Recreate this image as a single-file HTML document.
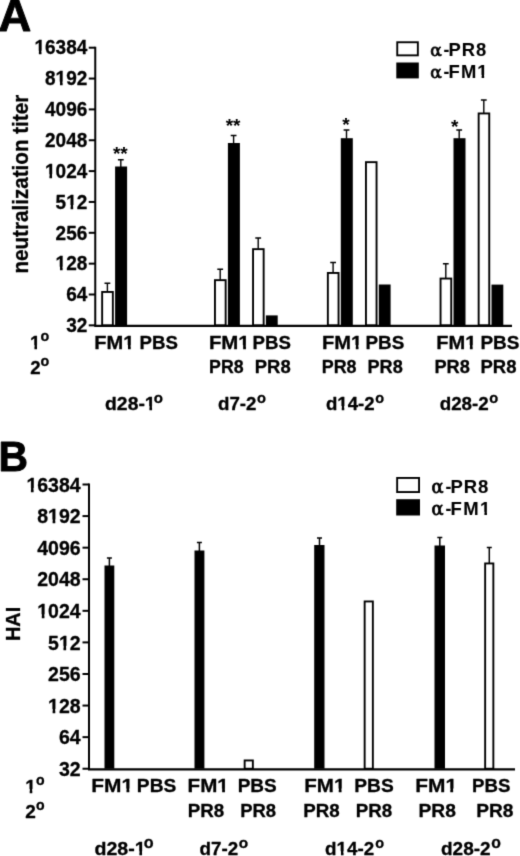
<!DOCTYPE html>
<html lang="en"><head><meta charset="utf-8"><title>Figure</title>
<style>
html,body{margin:0;padding:0;background:#fff;}
body{width:520px;height:856px;overflow:hidden;}
svg{display:block;}
svg text{font-family:"Liberation Sans", Arial, Helvetica, sans-serif;fill:#000;stroke:#000;stroke-width:0.3px;stroke-linejoin:round;}
</style></head><body>
<svg width="520" height="856" viewBox="0 0 520 856">
<defs><filter id="soft" color-interpolation-filters="sRGB" x="0" y="0" width="520" height="856" filterUnits="userSpaceOnUse"><feConvolveMatrix order="3" kernelMatrix="0.0169 0.0962 0.0169 0.0962 0.5476 0.0962 0.0169 0.0962 0.0169" divisor="1" edgeMode="duplicate" preserveAlpha="true"/></filter></defs>
<rect x="0" y="0" width="520" height="856" fill="#fff"/>
<g filter="url(#soft)">
<rect x="-5" y="-5" width="530" height="866" fill="#fff"/>
<text transform="translate(-1.4 30.8) scale(1.036 1)" font-size="43.8" font-weight="bold" style="stroke-width:0.9px">A</text>
<path d="M88.75 47.70H95.25" stroke="#000" stroke-width="2"/>
<g transform="translate(87.3 54.45) scale(0.97 1)">
<text x="0" y="0" font-size="19.6" font-weight="bold" text-anchor="end">16384</text>
<rect x="-54.47" y="-3.70" width="4.54" height="5.70" fill="#fff"/>
<rect x="-47.24" y="-3.70" width="3.94" height="5.70" fill="#fff"/>
</g>
<path d="M88.75 78.55H95.25" stroke="#000" stroke-width="2"/>
<g transform="translate(87.3 85.3) scale(0.97 1)">
<text x="0" y="0" font-size="19.6" font-weight="bold" text-anchor="end">8192</text>
<rect x="-32.67" y="-3.70" width="4.54" height="5.70" fill="#fff"/>
<rect x="-25.44" y="-3.70" width="3.94" height="5.70" fill="#fff"/>
</g>
<path d="M88.75 109.40H95.25" stroke="#000" stroke-width="2"/>
<g transform="translate(87.3 116.15) scale(0.97 1)">
<text x="0" y="0" font-size="19.6" font-weight="bold" text-anchor="end">4096</text>
</g>
<path d="M88.75 140.25H95.25" stroke="#000" stroke-width="2"/>
<g transform="translate(87.3 147.0) scale(0.97 1)">
<text x="0" y="0" font-size="19.6" font-weight="bold" text-anchor="end">2048</text>
</g>
<path d="M88.75 171.10H95.25" stroke="#000" stroke-width="2"/>
<g transform="translate(87.3 177.85) scale(0.97 1)">
<text x="0" y="0" font-size="19.6" font-weight="bold" text-anchor="end">1024</text>
<rect x="-43.57" y="-3.70" width="4.54" height="5.70" fill="#fff"/>
<rect x="-36.34" y="-3.70" width="3.94" height="5.70" fill="#fff"/>
</g>
<path d="M88.75 201.95H95.25" stroke="#000" stroke-width="2"/>
<g transform="translate(87.3 208.7) scale(0.97 1)">
<text x="0" y="0" font-size="19.6" font-weight="bold" text-anchor="end">512</text>
<rect x="-21.77" y="-3.70" width="4.54" height="5.70" fill="#fff"/>
<rect x="-14.54" y="-3.70" width="3.94" height="5.70" fill="#fff"/>
</g>
<path d="M88.75 232.80H95.25" stroke="#000" stroke-width="2"/>
<g transform="translate(87.3 239.55) scale(0.97 1)">
<text x="0" y="0" font-size="19.6" font-weight="bold" text-anchor="end">256</text>
</g>
<path d="M88.75 263.65H95.25" stroke="#000" stroke-width="2"/>
<g transform="translate(87.3 270.4) scale(0.97 1)">
<text x="0" y="0" font-size="19.6" font-weight="bold" text-anchor="end">128</text>
<rect x="-32.67" y="-3.70" width="4.54" height="5.70" fill="#fff"/>
<rect x="-25.44" y="-3.70" width="3.94" height="5.70" fill="#fff"/>
</g>
<path d="M88.75 294.50H95.25" stroke="#000" stroke-width="2"/>
<g transform="translate(87.3 301.25) scale(0.97 1)">
<text x="0" y="0" font-size="19.6" font-weight="bold" text-anchor="end">64</text>
</g>
<path d="M88.75 325.35H95.25" stroke="#000" stroke-width="2"/>
<g transform="translate(87.3 332.1) scale(0.97 1)">
<text x="0" y="0" font-size="19.6" font-weight="bold" text-anchor="end">32</text>
</g>
<rect x="102.15" y="291.95" width="10.70" height="33.40" fill="#fff" stroke="#000" stroke-width="1.9"/>
<rect x="115.10000000000001" y="166.5" width="12.00" height="158.85" fill="#000"/>
<rect x="214.95" y="280.15" width="10.70" height="45.20" fill="#fff" stroke="#000" stroke-width="1.9"/>
<rect x="227.9" y="143" width="12.00" height="182.35" fill="#000"/>
<rect x="253.04999999999998" y="249.14999999999998" width="10.60" height="76.20" fill="#fff" stroke="#000" stroke-width="1.9"/>
<rect x="265.9" y="315.4" width="11.80" height="9.95" fill="#000"/>
<rect x="327.84999999999997" y="272.95" width="10.70" height="52.40" fill="#fff" stroke="#000" stroke-width="1.9"/>
<rect x="340.79999999999995" y="138.2" width="12.00" height="187.15" fill="#000"/>
<rect x="365.95" y="162.14999999999998" width="10.60" height="163.20" fill="#fff" stroke="#000" stroke-width="1.9"/>
<rect x="378.79999999999995" y="284.5" width="11.80" height="40.85" fill="#000"/>
<rect x="440.55" y="278.55" width="10.70" height="46.80" fill="#fff" stroke="#000" stroke-width="1.9"/>
<rect x="453.5" y="138.2" width="12.00" height="187.15" fill="#000"/>
<rect x="478.65000000000003" y="113.45" width="10.60" height="211.90" fill="#fff" stroke="#000" stroke-width="1.9"/>
<rect x="491.5" y="284.6" width="11.80" height="40.75" fill="#000"/>
<path d="M107.4 291.5V283.2M104.5 283.2H110.30000000000001" stroke="#000" stroke-width="1.4" fill="none"/>
<path d="M120.8 167.0V159.7M117.89999999999999 159.7H123.7" stroke="#000" stroke-width="1.4" fill="none"/>
<path d="M220.2 279.7V269.2M217.29999999999998 269.2H223.1" stroke="#000" stroke-width="1.4" fill="none"/>
<path d="M233.6 143.5V135.5M230.7 135.5H236.5" stroke="#000" stroke-width="1.4" fill="none"/>
<path d="M258.2 248.7V238M255.29999999999998 238H261.09999999999997" stroke="#000" stroke-width="1.4" fill="none"/>
<path d="M333.1 272.5V262.5M330.20000000000005 262.5H336.0" stroke="#000" stroke-width="1.4" fill="none"/>
<path d="M346.5 138.7V130M343.6 130H349.4" stroke="#000" stroke-width="1.4" fill="none"/>
<path d="M445.8 278.1V263.7M442.90000000000003 263.7H448.7" stroke="#000" stroke-width="1.4" fill="none"/>
<path d="M459.2 138.7V130M456.3 130H462.09999999999997" stroke="#000" stroke-width="1.4" fill="none"/>
<path d="M483.8 113.0V100M480.90000000000003 100H486.7" stroke="#000" stroke-width="1.4" fill="none"/>
<path d="M95.25 46.7V326.35" stroke="#000" stroke-width="2" fill="none"/>
<path d="M94.25 325.95H512" stroke="#000" stroke-width="2.2" fill="none"/>
<text x="120.3" y="160.2" font-size="19" text-anchor="middle" font-weight="bold" style="stroke-width:0">**</text>
<text x="233.1" y="131.7" font-size="19" text-anchor="middle" font-weight="bold" style="stroke-width:0">**</text>
<text x="346" y="131" font-size="19" text-anchor="middle" font-weight="bold" style="stroke-width:0">*</text>
<text x="454.7" y="133" font-size="19" text-anchor="middle" font-weight="bold" style="stroke-width:0">*</text>
<rect x="397.25" y="42.25" width="20.60" height="13.10" fill="#fff" stroke="#000" stroke-width="1.9"/>
<rect x="396.3" y="62.5" width="22.50" height="15.90" fill="#000"/>
<text x="430.2" y="56.2" font-size="17" font-weight="normal" stroke="#000" style="stroke-width:0.8px;font-family:'DejaVu Serif','Liberation Serif',serif">α</text>
<text x="443.57" y="56.2" font-size="17.5" font-weight="bold" letter-spacing="0.000" style="stroke-width:0.1px">-</text>
<g transform="translate(448.52 56.2) scale(1.05 1)">
<text x="0" y="0" font-size="17.5" font-weight="bold" letter-spacing="0.881" style="stroke-width:0.1px">PR8</text>
</g>
<text x="430.2" y="78.4" font-size="17" font-weight="normal" stroke="#000" style="stroke-width:0.8px;font-family:'DejaVu Serif','Liberation Serif',serif">α</text>
<text x="443.57" y="78.4" font-size="17.5" font-weight="bold" letter-spacing="0.000" style="stroke-width:0.1px">-</text>
<g transform="translate(448.52 78.4) scale(1.05 1)">
<text x="0" y="0" font-size="17.5" font-weight="bold" letter-spacing="1.090" style="stroke-width:0.1px">FM1</text>
<rect x="27.35" y="-3.49" width="4.18" height="5.49" fill="#fff"/>
<rect x="33.93" y="-3.49" width="3.96" height="5.49" fill="#fff"/>
</g>
<text transform="translate(27.9 273.6) rotate(-90) scale(1.007 1.055)" font-size="20.5" font-weight="bold">neutralization titer</text>
<text x="30.07" y="348.70000000000005" font-size="18.7" font-weight="bold" letter-spacing="0.000">1</text>
<rect x="30.05" y="345.09" width="4.39" height="5.61" fill="#fff"/>
<rect x="37.00" y="345.09" width="3.77" height="5.61" fill="#fff"/>
<text x="40.39" y="341.11" font-size="14.27" font-weight="bold">o</text>
<text x="30.20" y="373.59999999999997" font-size="18.7" font-weight="bold" letter-spacing="0.000">2</text>
<text x="40.39" y="365.61" font-size="14.27" font-weight="bold">o</text>
<g transform="translate(94.31 348.6) scale(1.074 1)">
<text x="0" y="0" font-size="18.7" font-weight="bold" letter-spacing="0.001">FM1</text>
<rect x="26.98" y="-3.61" width="4.39" height="5.61" fill="#fff"/>
<rect x="33.93" y="-3.61" width="3.77" height="5.61" fill="#fff"/>
</g>
<g transform="translate(139.60 348.6) scale(0.998 1)">
<text x="0" y="0" font-size="18.7" font-weight="bold" letter-spacing="0.002">PBS</text>
</g>
<g transform="translate(208.88 348.6) scale(1.092 1)">
<text x="0" y="0" font-size="18.7" font-weight="bold" letter-spacing="0.006">FM1</text>
<rect x="26.99" y="-3.61" width="4.39" height="5.61" fill="#fff"/>
<rect x="33.94" y="-3.61" width="3.78" height="5.61" fill="#fff"/>
</g>
<g transform="translate(252.50 348.6) scale(0.998 1)">
<text x="0" y="0" font-size="18.7" font-weight="bold" letter-spacing="0.002">PBS</text>
</g>
<g transform="translate(322.00 348.6) scale(1.077 1)">
<text x="0" y="0" font-size="18.7" font-weight="bold" letter-spacing="0.002">FM1</text>
<rect x="26.98" y="-3.61" width="4.39" height="5.61" fill="#fff"/>
<rect x="33.93" y="-3.61" width="3.77" height="5.61" fill="#fff"/>
</g>
<g transform="translate(365.49 348.6) scale(1.009 1)">
<text x="0" y="0" font-size="18.7" font-weight="bold" letter-spacing="0.002">PBS</text>
</g>
<g transform="translate(436.21 348.6) scale(1.074 1)">
<text x="0" y="0" font-size="18.7" font-weight="bold" letter-spacing="0.001">FM1</text>
<rect x="26.98" y="-3.61" width="4.39" height="5.61" fill="#fff"/>
<rect x="33.93" y="-3.61" width="3.77" height="5.61" fill="#fff"/>
</g>
<g transform="translate(480.48 348.6) scale(1.015 1)">
<text x="0" y="0" font-size="18.7" font-weight="bold" letter-spacing="-0.008">PBS</text>
</g>
<g transform="translate(209.06 372.7) scale(0.949 1)">
<text x="0" y="0" font-size="18.7" font-weight="bold" letter-spacing="0.006">PR8</text>
</g>
<g transform="translate(254.82 372.7) scale(0.987 1)">
<text x="0" y="0" font-size="18.7" font-weight="bold" letter-spacing="-0.001">PR8</text>
</g>
<g transform="translate(321.75 372.7) scale(0.958 1)">
<text x="0" y="0" font-size="18.7" font-weight="bold" letter-spacing="-0.000">PR8</text>
</g>
<g transform="translate(367.54 372.7) scale(0.97 1)">
<text x="0" y="0" font-size="18.7" font-weight="bold" letter-spacing="-0.008">PR8</text>
</g>
<g transform="translate(434.43 372.7) scale(0.975 1)">
<text x="0" y="0" font-size="18.7" font-weight="bold" letter-spacing="0.006">PR8</text>
</g>
<g transform="translate(480.51 372.7) scale(0.99 1)">
<text x="0" y="0" font-size="18.7" font-weight="bold" letter-spacing="-0.003">PR8</text>
</g>
<g transform="translate(105.06 409.6) scale(1.036 1)">
<text x="0" y="0" font-size="18.7" font-weight="bold" letter-spacing="-0.005">d28-1</text>
<rect x="38.41" y="-3.61" width="4.39" height="5.61" fill="#fff"/>
<rect x="45.36" y="-3.61" width="3.77" height="5.61" fill="#fff"/>
</g>
<text x="153.86" y="402.90" font-size="15.02" font-weight="bold">o</text>
<g transform="translate(217.98 409.6) scale(1.002 1)">
<text x="0" y="0" font-size="18.7" font-weight="bold" letter-spacing="-0.003">d7-2</text>
</g>
<text x="256.98" y="402.90" font-size="14.64" font-weight="bold">o</text>
<g transform="translate(325.99 409.6) scale(0.997 1)">
<text x="0" y="0" font-size="18.7" font-weight="bold" letter-spacing="0.002">d14-2</text>
<rect x="11.40" y="-3.61" width="4.39" height="5.61" fill="#fff"/>
<rect x="18.35" y="-3.61" width="3.77" height="5.61" fill="#fff"/>
</g>
<text x="375.29" y="402.91" font-size="14.45" font-weight="bold">o</text>
<g transform="translate(439.68 409.6) scale(1.006 1)">
<text x="0" y="0" font-size="18.7" font-weight="bold" letter-spacing="-0.005">d28-2</text>
</g>
<text x="489.28" y="402.90" font-size="14.64" font-weight="bold">o</text>
<text transform="translate(-1.5 470.9) scale(0.955 1)" font-size="42.8" font-weight="bold" style="stroke-width:0.9px">B</text>
<path d="M82.5 484.50H89.0" stroke="#000" stroke-width="2"/>
<g transform="translate(80.6 491.7) scale(0.975 1)">
<text x="0" y="0" font-size="20.0" font-weight="bold" text-anchor="end">16384</text>
<rect x="-55.56" y="-3.74" width="4.61" height="5.74" fill="#fff"/>
<rect x="-48.20" y="-3.74" width="4.01" height="5.74" fill="#fff"/>
</g>
<path d="M82.5 516.08H89.0" stroke="#000" stroke-width="2"/>
<g transform="translate(80.6 523.28) scale(0.975 1)">
<text x="0" y="0" font-size="20.0" font-weight="bold" text-anchor="end">8192</text>
<rect x="-33.31" y="-3.74" width="4.61" height="5.74" fill="#fff"/>
<rect x="-25.96" y="-3.74" width="4.01" height="5.74" fill="#fff"/>
</g>
<path d="M82.5 547.66H89.0" stroke="#000" stroke-width="2"/>
<g transform="translate(80.6 554.86) scale(0.975 1)">
<text x="0" y="0" font-size="20.0" font-weight="bold" text-anchor="end">4096</text>
</g>
<path d="M82.5 579.24H89.0" stroke="#000" stroke-width="2"/>
<g transform="translate(80.6 586.44) scale(0.975 1)">
<text x="0" y="0" font-size="20.0" font-weight="bold" text-anchor="end">2048</text>
</g>
<path d="M82.5 610.82H89.0" stroke="#000" stroke-width="2"/>
<g transform="translate(80.6 618.02) scale(0.975 1)">
<text x="0" y="0" font-size="20.0" font-weight="bold" text-anchor="end">1024</text>
<rect x="-44.43" y="-3.74" width="4.61" height="5.74" fill="#fff"/>
<rect x="-37.08" y="-3.74" width="4.01" height="5.74" fill="#fff"/>
</g>
<path d="M82.5 642.40H89.0" stroke="#000" stroke-width="2"/>
<g transform="translate(80.6 649.6) scale(0.975 1)">
<text x="0" y="0" font-size="20.0" font-weight="bold" text-anchor="end">512</text>
<rect x="-22.19" y="-3.74" width="4.61" height="5.74" fill="#fff"/>
<rect x="-14.83" y="-3.74" width="4.01" height="5.74" fill="#fff"/>
</g>
<path d="M82.5 673.98H89.0" stroke="#000" stroke-width="2"/>
<g transform="translate(80.6 681.18) scale(0.975 1)">
<text x="0" y="0" font-size="20.0" font-weight="bold" text-anchor="end">256</text>
</g>
<path d="M82.5 705.56H89.0" stroke="#000" stroke-width="2"/>
<g transform="translate(80.6 712.76) scale(0.975 1)">
<text x="0" y="0" font-size="20.0" font-weight="bold" text-anchor="end">128</text>
<rect x="-33.31" y="-3.74" width="4.61" height="5.74" fill="#fff"/>
<rect x="-25.96" y="-3.74" width="4.01" height="5.74" fill="#fff"/>
</g>
<path d="M82.5 737.14H89.0" stroke="#000" stroke-width="2"/>
<g transform="translate(80.6 744.34) scale(0.975 1)">
<text x="0" y="0" font-size="20.0" font-weight="bold" text-anchor="end">64</text>
</g>
<path d="M82.5 768.72H89.0" stroke="#000" stroke-width="2"/>
<g transform="translate(80.6 775.92) scale(0.975 1)">
<text x="0" y="0" font-size="20.0" font-weight="bold" text-anchor="end">32</text>
</g>
<rect x="104.5" y="565.5" width="9.80" height="203.22" fill="#000"/>
<rect x="194.5" y="550.5" width="9.90" height="218.22" fill="#000"/>
<rect x="244.64999999999998" y="760.45" width="8.20" height="8.27" fill="#fff" stroke="#000" stroke-width="1.9"/>
<rect x="314.2" y="545" width="10.30" height="223.72" fill="#000"/>
<rect x="364.65" y="601.45" width="8.20" height="167.27" fill="#fff" stroke="#000" stroke-width="1.9"/>
<rect x="434.5" y="545.5" width="10.50" height="223.22" fill="#000"/>
<rect x="485.15" y="563.45" width="8.20" height="205.27" fill="#fff" stroke="#000" stroke-width="1.9"/>
<path d="M109.4 566V558M106.9 558H111.9" stroke="#000" stroke-width="1.5" fill="none"/>
<path d="M199.4 551V542.5M196.9 542.5H201.9" stroke="#000" stroke-width="1.5" fill="none"/>
<path d="M319.5 545.5V538M317.0 538H322.0" stroke="#000" stroke-width="1.5" fill="none"/>
<path d="M439.8 546V537.5M437.3 537.5H442.3" stroke="#000" stroke-width="1.5" fill="none"/>
<path d="M489.3 563V547.5M486.8 547.5H491.8" stroke="#000" stroke-width="1.5" fill="none"/>
<path d="M89.0 483.5V769.72" stroke="#000" stroke-width="2" fill="none"/>
<path d="M88.0 769.32H515" stroke="#000" stroke-width="2.2" fill="none"/>
<rect x="397.15" y="477.95" width="21.90" height="14.10" fill="#fff" stroke="#000" stroke-width="1.9"/>
<rect x="396.2" y="499.2" width="23.80" height="16.30" fill="#000"/>
<text x="431.5" y="493.0" font-size="17.8" font-weight="normal" stroke="#000" style="stroke-width:0.8px;font-family:'DejaVu Serif','Liberation Serif',serif">α</text>
<text x="445.46" y="493.0" font-size="17.6" font-weight="bold" letter-spacing="0.000" style="stroke-width:0.1px">-</text>
<g transform="translate(450.61 493.0) scale(1.05 1)">
<text x="0" y="0" font-size="17.6" font-weight="bold" letter-spacing="0.836" style="stroke-width:0.1px">PR8</text>
</g>
<text x="431.5" y="515.3" font-size="17.8" font-weight="normal" stroke="#000" style="stroke-width:0.8px;font-family:'DejaVu Serif','Liberation Serif',serif">α</text>
<text x="445.46" y="515.3" font-size="17.6" font-weight="bold" letter-spacing="0.000" style="stroke-width:0.1px">-</text>
<g transform="translate(450.61 515.3) scale(1.05 1)">
<text x="0" y="0" font-size="17.6" font-weight="bold" letter-spacing="1.336" style="stroke-width:0.1px">FM1</text>
<rect x="27.99" y="-3.50" width="4.20" height="5.50" fill="#fff"/>
<rect x="34.61" y="-3.50" width="3.98" height="5.50" fill="#fff"/>
</g>
<text transform="translate(20.05 641.1) rotate(-90) scale(0.957 1)" font-size="20.8" font-weight="bold">HAI</text>
<text x="25.25" y="792.6" font-size="19.0" font-weight="bold" letter-spacing="0.000">1</text>
<rect x="25.25" y="788.96" width="4.44" height="5.64" fill="#fff"/>
<rect x="32.29" y="788.96" width="3.83" height="5.64" fill="#fff"/>
<text x="36.00" y="784.91" font-size="14.08" font-weight="bold">o</text>
<text x="25.19" y="818.0" font-size="19.0" font-weight="bold" letter-spacing="0.000">2</text>
<text x="36.00" y="810.11" font-size="14.08" font-weight="bold">o</text>
<g transform="translate(91.15 792.2) scale(1.1 1)">
<text x="0" y="0" font-size="19.0" font-weight="bold" letter-spacing="0.125">FM1</text>
<rect x="27.68" y="-3.64" width="4.44" height="5.64" fill="#fff"/>
<rect x="34.73" y="-3.64" width="3.95" height="5.64" fill="#fff"/>
</g>
<g transform="translate(136.87 792.2) scale(1.009 1)">
<text x="0" y="0" font-size="19.0" font-weight="bold" letter-spacing="0.006">PBS</text>
</g>
<g transform="translate(187.57 792.2) scale(1.084 1)">
<text x="0" y="0" font-size="19.0" font-weight="bold" letter-spacing="0.003">FM1</text>
<rect x="27.44" y="-3.64" width="4.44" height="5.64" fill="#fff"/>
<rect x="34.48" y="-3.64" width="3.83" height="5.64" fill="#fff"/>
</g>
<g transform="translate(237.68 792.2) scale(0.999 1)">
<text x="0" y="0" font-size="19.0" font-weight="bold" letter-spacing="-0.008">PBS</text>
</g>
<g transform="translate(304.17 792.2) scale(1.084 1)">
<text x="0" y="0" font-size="19.0" font-weight="bold" letter-spacing="0.003">FM1</text>
<rect x="27.44" y="-3.64" width="4.44" height="5.64" fill="#fff"/>
<rect x="34.48" y="-3.64" width="3.83" height="5.64" fill="#fff"/>
</g>
<g transform="translate(354.27 792.2) scale(1.009 1)">
<text x="0" y="0" font-size="19.0" font-weight="bold" letter-spacing="0.006">PBS</text>
</g>
<g transform="translate(415.15 792.2) scale(1.1 1)">
<text x="0" y="0" font-size="19.0" font-weight="bold" letter-spacing="0.035">FM1</text>
<rect x="27.50" y="-3.64" width="4.44" height="5.64" fill="#fff"/>
<rect x="34.54" y="-3.64" width="3.86" height="5.64" fill="#fff"/>
</g>
<g transform="translate(472.00 792.2) scale(0.982 1)">
<text x="0" y="0" font-size="19.0" font-weight="bold" letter-spacing="0.007">PBS</text>
</g>
<g transform="translate(187.70 817.3) scale(0.986 1)">
<text x="0" y="0" font-size="19.0" font-weight="bold" letter-spacing="-0.007">PR8</text>
</g>
<g transform="translate(240.22 817.3) scale(0.971 1)">
<text x="0" y="0" font-size="19.0" font-weight="bold" letter-spacing="0.006">PR8</text>
</g>
<g transform="translate(303.20 817.3) scale(0.986 1)">
<text x="0" y="0" font-size="19.0" font-weight="bold" letter-spacing="-0.007">PR8</text>
</g>
<g transform="translate(355.70 817.3) scale(0.986 1)">
<text x="0" y="0" font-size="19.0" font-weight="bold" letter-spacing="-0.007">PR8</text>
</g>
<g transform="translate(418.47 817.3) scale(1.011 1)">
<text x="0" y="0" font-size="19.0" font-weight="bold" letter-spacing="0.004">PR8</text>
</g>
<g transform="translate(476.27 817.3) scale(1.008 1)">
<text x="0" y="0" font-size="19.0" font-weight="bold" letter-spacing="0.007">PR8</text>
</g>
<g transform="translate(94.45 854.8) scale(1.032 1)">
<text x="0" y="0" font-size="19.0" font-weight="bold" letter-spacing="0.005">d28-1</text>
<rect x="39.08" y="-3.64" width="4.44" height="5.64" fill="#fff"/>
<rect x="46.13" y="-3.64" width="3.83" height="5.64" fill="#fff"/>
</g>
<text x="143.82" y="848.29" font-size="16.14" font-weight="bold">o</text>
<g transform="translate(199.48 854.8) scale(0.991 1)">
<text x="0" y="0" font-size="19.0" font-weight="bold" letter-spacing="0.004">d7-2</text>
</g>
<text x="238.65" y="848.30" font-size="15.39" font-weight="bold">o</text>
<g transform="translate(325.08 854.8) scale(0.99 1)">
<text x="0" y="0" font-size="19.0" font-weight="bold" letter-spacing="-0.003">d14-2</text>
<rect x="11.60" y="-3.64" width="4.44" height="5.64" fill="#fff"/>
<rect x="18.64" y="-3.64" width="3.82" height="5.64" fill="#fff"/>
</g>
<text x="375.29" y="848.31" font-size="14.45" font-weight="bold">o</text>
<g transform="translate(440.97 854.8) scale(1.002 1)">
<text x="0" y="0" font-size="19.0" font-weight="bold" letter-spacing="0.003">d28-2</text>
</g>
<text x="491.13" y="848.29" font-size="15.77" font-weight="bold">o</text>
</g>
</svg>
</body></html>
